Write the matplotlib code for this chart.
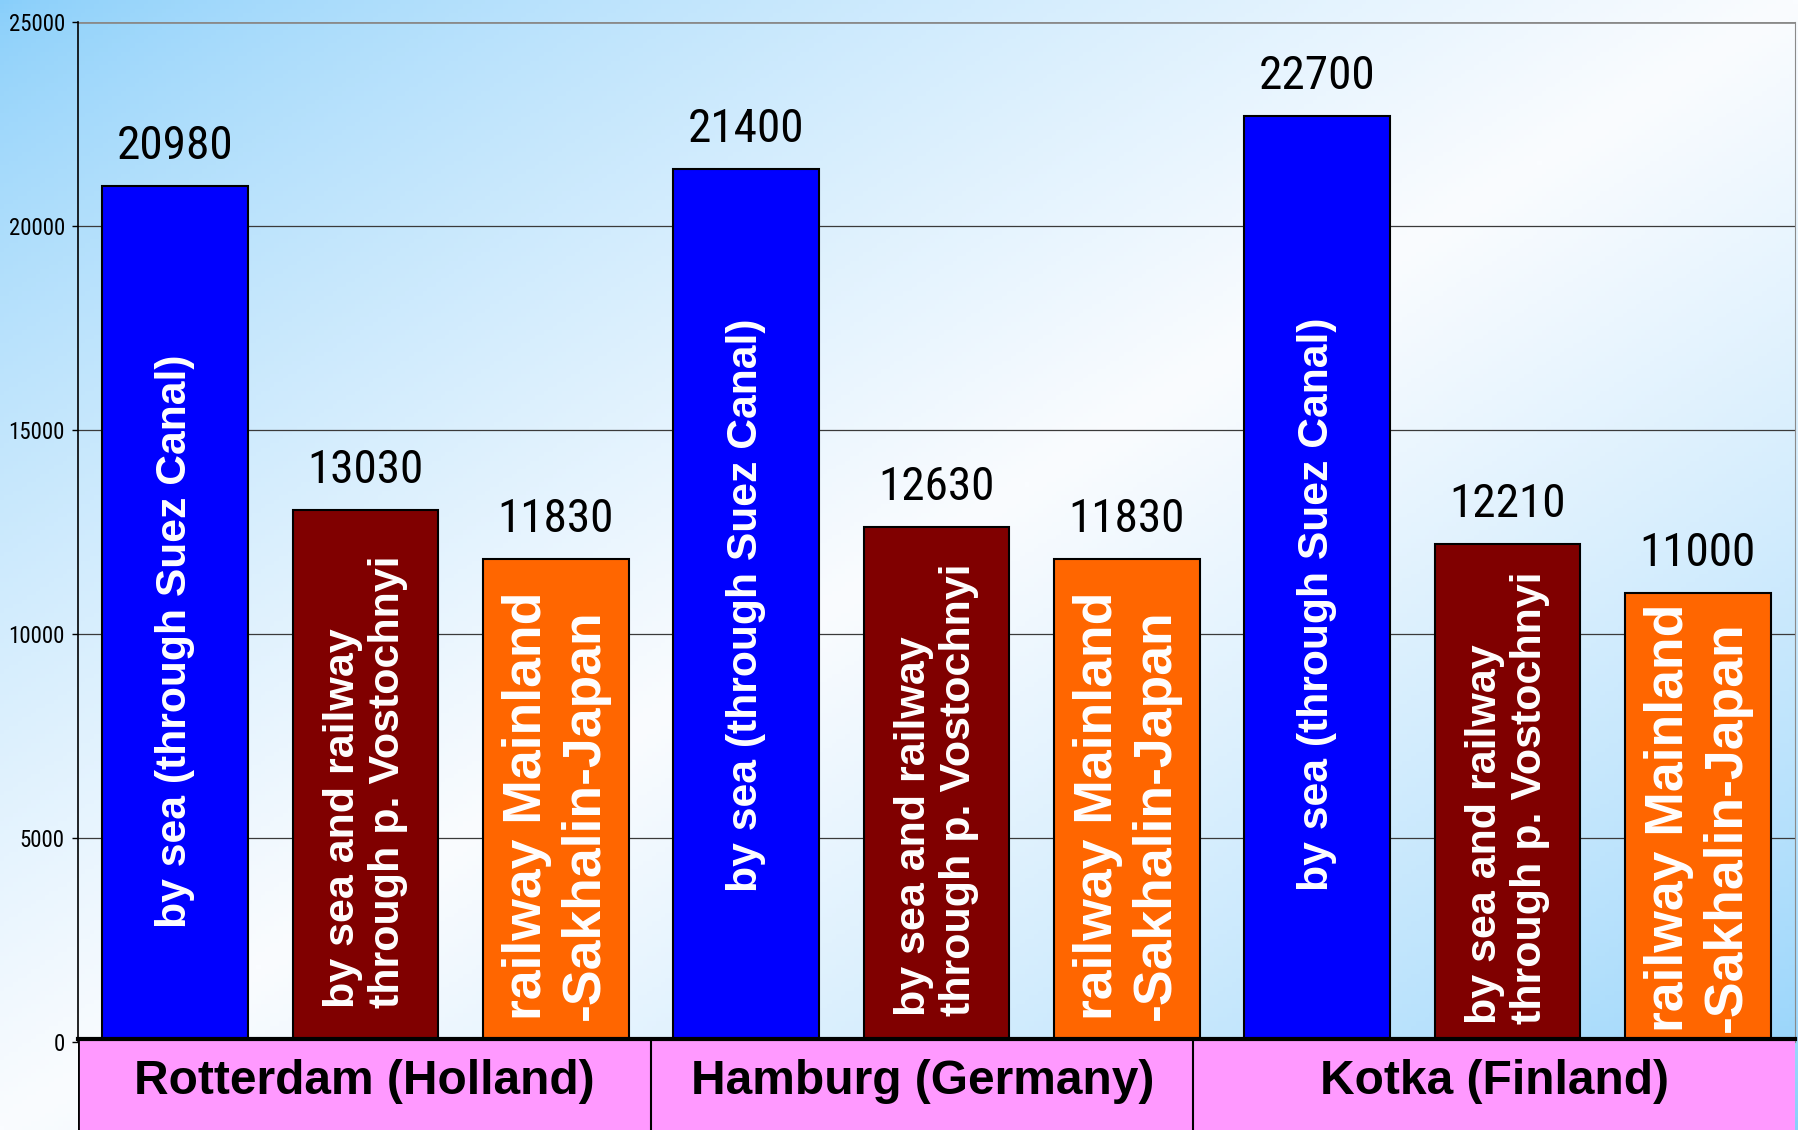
import matplotlib
matplotlib.use('Agg')
import matplotlib.pyplot as plt
import numpy as np

# data
ports = ['Rotterdam (Holland)', 'Hamburg (Germany)', 'Kotka (Finland)']
routes = ['by sea (through Suez Canal)',
          'by sea and railway\nthrough p. Vostochnyi',
          'railway Mainland\n-Sakhalin-Japan']
seaY = [20980, 21400, 22700]
seaRailY = [13030, 12630, 12210]
railY = [11830, 11830, 11000]
yTicks = [0, 5000, 10000, 15000, 20000, 25000]

colors = ['#0000ff', '#800000', '#ff6600']
routeSizes = [30.7, 31, 38.5]
routeSpacing = [1.0, 1.15, 1.2]
bold = ['Liberation Sans', 'DejaVu Sans']
narrow = ['Liberation Sans Narrow', 'Roboto Condensed', 'DejaVu Sans']

W, H, dpi = 1798, 1130, 100
fig = plt.figure(figsize=(W / dpi, H / dpi), dpi=dpi)

# background gradient: blue corners top-left / bottom-right, white across the middle
bg = fig.add_axes([0, 0, 1, 1], zorder=-10)
gx, gy = np.meshgrid(np.linspace(0, 1, 400), np.linspace(0, 1, 260))
t = (gx + gy) / 2
f = np.clip(1 - np.abs(2 * t - 1), 0, 1) ** 0.7
blue = np.array([135, 206, 250]) / 255.0
white = np.array([250, 252, 255]) / 255.0
img = blue[None, None, :] * (1 - f[..., None]) + white[None, None, :] * f[..., None]
bg.imshow(img, aspect='auto', extent=[0, 1, 0, 1], origin='upper')
bg.set_xlim(0, 1)
bg.set_ylim(0, 1)
bg.axis('off')

left, right = 78 / W, 1795 / W
top, zero = 22 / H, 1042 / H
ax = fig.add_axes([left, 1 - zero, right - left, zero - top])
ax.set_facecolor('none')

allY = [seaY, seaRailY, railY]
textMid = [[0.468, 0.49, 0.49], [0.50, 0.49, 0.49], [0.473, 0.49, 0.50]]
for g in range(3):
    for j in range(3):
        x = g * 3 + j
        h = allY[j][g]
        ax.bar(x, h, width=0.765, color=colors[j], edgecolor='black',
               linewidth=1.5, zorder=3)
        ax.annotate(str(h), (x, h), xytext=(0, 19.5), textcoords='offset points',
                    ha='center', va='baseline', fontsize=34, family=narrow,
                    zorder=4)
        ax.text(x, h * textMid[g][j], routes[j], rotation=90, ha='center', va='center',
                multialignment='left', color='white', fontsize=routeSizes[j],
                fontweight='bold', family=bold, linespacing=routeSpacing[j], zorder=4)

ax.set_xlim(-0.51, 8.51)
ax.set_ylim(0, 25000)
ax.set_yticks(yTicks)
ax.set_yticklabels([str(v) for v in yTicks], family=narrow, fontsize=16.5)
ax.tick_params(axis='y', length=4.5, width=1, pad=5)
ax.set_xticks([])
for v in yTicks[1:-1]:
    ax.axhline(v, color='#3a3a3a', linewidth=0.9, zorder=1)
ax.axhline(25000, color='#8a8a8a', linewidth=2, zorder=1)
ax.spines['left'].set_linewidth(1.2)
ax.spines['right'].set_color('#8a8a8a')
ax.spines['top'].set_visible(False)
ax.spines['bottom'].set_visible(False)

# category band under the bars
bandTop = 1039 / H
band = fig.add_axes([left, 0, right - left, 1 - bandTop])
band.set_facecolor('#ff99ff')
band.set_xlim(-0.51, 8.51)
band.set_ylim(0, 1)
band.set_xticks([])
band.set_yticks([])
for s in band.spines.values():
    s.set_visible(False)
band.axhline(1, color='black', linewidth=3, clip_on=False)
band.axvline(-0.51, color='black', linewidth=2)
edges = [-0.51, 2.5, 5.35, 8.51]
for d in edges[1:-1]:
    band.axvline(d, color='black', linewidth=1.5)
for i, p in enumerate(ports):
    band.text((edges[i] + edges[i + 1]) / 2, 0.53, p, ha='center', va='center',
              fontsize=34.5, fontweight='bold', family=bold)

fig.savefig('out.png', dpi=dpi)
